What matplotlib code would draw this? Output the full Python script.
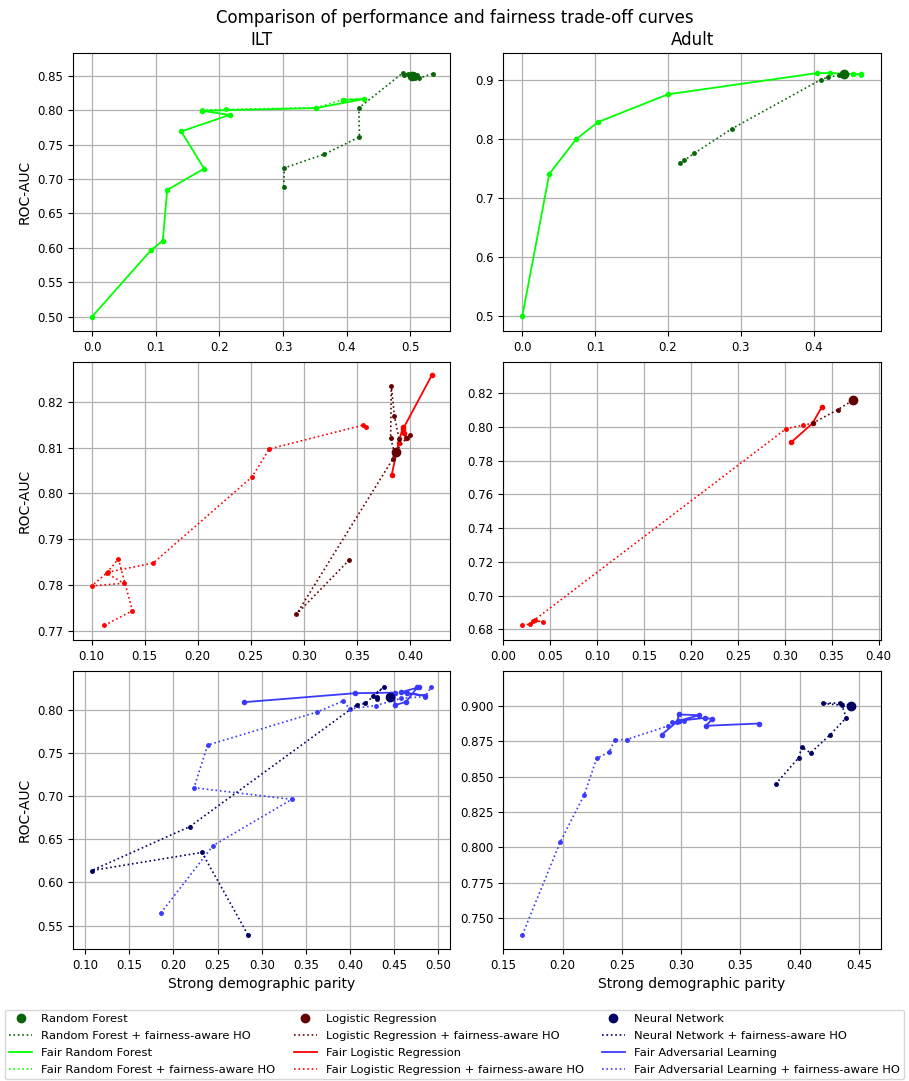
import numpy as np
import matplotlib
matplotlib.use('Agg')
import matplotlib.pyplot as plt
from matplotlib.lines import Line2D

# ---- ILT / Random Forest ----
ilt_rf_base = (0.503, 0.849)
ilt_rf_ho_x = [0.301, 0.302, 0.365, 0.420, 0.419, 0.488, 0.490, 0.497, 0.500, 0.505, 0.503, 0.508, 0.511, 0.502, 0.513, 0.535]
ilt_rf_ho_y = [0.689, 0.716, 0.736, 0.761, 0.803, 0.854, 0.851, 0.852, 0.850, 0.852, 0.848, 0.847, 0.851, 0.846, 0.846, 0.853]
ilt_frf_x = [0.0, 0.093, 0.111, 0.118, 0.176, 0.140, 0.216, 0.172, 0.352, 0.427, 0.394]
ilt_frf_y = [0.500, 0.597, 0.610, 0.684, 0.715, 0.769, 0.793, 0.799, 0.803, 0.816, 0.815]
ilt_frf_ho_x = [0.172, 0.210, 0.352, 0.394, 0.427]
ilt_frf_ho_y = [0.800, 0.801, 0.8035, 0.8150, 0.8163]

# ---- Adult / Random Forest ----
adult_rf_base = (0.442, 0.910)
adult_rf_ho_x = [0.216, 0.222, 0.236, 0.288, 0.410, 0.420, 0.434, 0.442]
adult_rf_ho_y = [0.759, 0.764, 0.776, 0.818, 0.901, 0.905, 0.908, 0.910]
adult_frf_x = [0.0, 0.037, 0.074, 0.104, 0.200, 0.405, 0.422, 0.442, 0.454, 0.465]
adult_frf_y = [0.500, 0.741, 0.800, 0.829, 0.876, 0.912, 0.912, 0.911, 0.910, 0.910]
adult_frf_ho_x = [0.442, 0.454, 0.465]
adult_frf_ho_y = [0.911, 0.910, 0.909]

# ---- ILT / Logistic Regression ----
ilt_lr_base = (0.387, 0.809)
ilt_lr_ho_x = [0.343, 0.293, 0.384, 0.3855, 0.382, 0.3826, 0.3855, 0.390, 0.4006, 0.3974, 0.3868]
ilt_lr_ho_y = [0.7855, 0.7736, 0.8075, 0.8089, 0.8121, 0.8235, 0.8169, 0.8118, 0.8127, 0.8122, 0.8092]
ilt_flr_x = [0.383, 0.3896, 0.3935, 0.3946, 0.3968, 0.3935, 0.4208]
ilt_flr_y = [0.8041, 0.8111, 0.8145, 0.8131, 0.8122, 0.8140, 0.8258]
ilt_flr_ho_x = [0.112, 0.1384, 0.1252, 0.114, 0.1302, 0.100, 0.115, 0.158, 0.2512, 0.2676, 0.3558, 0.3587]
ilt_flr_ho_y = [0.7712, 0.7744, 0.7857, 0.7826, 0.7804, 0.7798, 0.7828, 0.7848, 0.8036, 0.8097, 0.8149, 0.8144]

# ---- Adult / Logistic Regression ----
adult_lr_base = (0.3726, 0.8159)
adult_lr_ho_x = [0.3296, 0.3565, 0.3726]
adult_lr_ho_y = [0.8022, 0.8103, 0.8159]
adult_flr_x = [0.307, 0.3296, 0.3397]
adult_flr_y = [0.791, 0.8022, 0.8121]
adult_flr_ho_x = [0.0202, 0.0283, 0.0337, 0.0422, 0.0319, 0.3017, 0.3199, 0.3296]
adult_flr_ho_y = [0.6828, 0.6830, 0.6853, 0.6845, 0.6851, 0.7991, 0.8012, 0.8022]

# ---- ILT / Neural Network ----
ilt_nn_base = (0.4451, 0.8146)
ilt_nn_ho_x = [0.2843, 0.2323, 0.1076, 0.2184, 0.408, 0.417, 0.4384, 0.4255, 0.4301, 0.4301]
ilt_nn_ho_y = [0.5396, 0.6347, 0.6138, 0.6645, 0.8058, 0.8070, 0.8262, 0.8158, 0.8124, 0.8147]
ilt_fal_x = [0.2796, 0.4055, 0.4504, 0.4504, 0.4633, 0.4762, 0.478, 0.4572, 0.4849, 0.4645]
ilt_fal_y = [0.8085, 0.8189, 0.8196, 0.805, 0.8089, 0.8258, 0.8258, 0.820, 0.816, 0.8189]
ilt_fal_ho_x = [0.1858, 0.2448, 0.334, 0.2233, 0.2388, 0.3624, 0.3923, 0.3997, 0.429, 0.458, 0.485, 0.492]
ilt_fal_ho_y = [0.5646, 0.6425, 0.6961, 0.7096, 0.7589, 0.7970, 0.8100, 0.8008, 0.8046, 0.8130, 0.8150, 0.8266]

# ---- Adult / Neural Network ----
adult_nn_base = (0.4432, 0.9002)
adult_nn_ho_x = [0.3798, 0.3992, 0.402, 0.4093, 0.426, 0.4395, 0.4356, 0.4195, 0.434, 0.4432]
adult_nn_ho_y = [0.8447, 0.8633, 0.8708, 0.8668, 0.8797, 0.8917, 0.9005, 0.9017, 0.9021, 0.9002]
adult_fal_x = [0.2835, 0.297, 0.2979, 0.3154, 0.2985, 0.3205, 0.3264, 0.3208, 0.3654]
adult_fal_y = [0.8795, 0.889, 0.8939, 0.8934, 0.8895, 0.8915, 0.8906, 0.8859, 0.8875]
adult_fal_ho_x = [0.1661, 0.198, 0.2183, 0.2288, 0.2395, 0.244, 0.2542, 0.2894, 0.2921, 0.2965, 0.3028]
adult_fal_ho_y = [0.7382, 0.8037, 0.8371, 0.8628, 0.8675, 0.876, 0.8762, 0.8859, 0.8885, 0.8885, 0.889]

RF_C, FRF_C = '#0a640a', '#00ff00'
LR_C, FLR_C = '#640000', '#ff0000'
NN_C, FAL_C = '#000064', '#3a3aff'

plt.rcParams['font.family'] = 'DejaVu Sans'

fig, axes = plt.subplots(3, 2, figsize=(9.09, 10.81), dpi=100)
fig.subplots_adjust(left=0.0803, right=0.969, top=0.951, bottom=0.1221, wspace=0.14, hspace=0.111)


def draw(ax, base, ho, fair, fair_ho, c, fc):
    ax.plot(fair_ho[0], fair_ho[1], ':', color=fc, lw=1.2, marker='.', ms=5, zorder=2)
    ax.plot(fair[0], fair[1], '-', color=fc, lw=1.3, marker='o', ms=3, zorder=3)
    ax.plot(ho[0], ho[1], ':', color=c, lw=1.2, marker='.', ms=5, zorder=4)
    ax.plot([base[0]], [base[1]], 'o', color=c, ms=6, zorder=5)
    ax.grid(True, color='#b0b0b0', lw=0.9)
    ax.set_axisbelow(True)
    ax.tick_params(labelsize=8.5)


draw(axes[0, 0], ilt_rf_base, (ilt_rf_ho_x, ilt_rf_ho_y), (ilt_frf_x, ilt_frf_y),
     (ilt_frf_ho_x, ilt_frf_ho_y), RF_C, FRF_C)
draw(axes[0, 1], adult_rf_base, (adult_rf_ho_x, adult_rf_ho_y), (adult_frf_x, adult_frf_y),
     (adult_frf_ho_x, adult_frf_ho_y), RF_C, FRF_C)
draw(axes[1, 0], ilt_lr_base, (ilt_lr_ho_x, ilt_lr_ho_y), (ilt_flr_x, ilt_flr_y),
     (ilt_flr_ho_x, ilt_flr_ho_y), LR_C, FLR_C)
draw(axes[1, 1], adult_lr_base, (adult_lr_ho_x, adult_lr_ho_y), (adult_flr_x, adult_flr_y),
     (adult_flr_ho_x, adult_flr_ho_y), LR_C, FLR_C)
draw(axes[2, 0], ilt_nn_base, (ilt_nn_ho_x, ilt_nn_ho_y), (ilt_fal_x, ilt_fal_y),
     (ilt_fal_ho_x, ilt_fal_ho_y), NN_C, FAL_C)
draw(axes[2, 1], adult_nn_base, (adult_nn_ho_x, adult_nn_ho_y), (adult_fal_x, adult_fal_y),
     (adult_fal_ho_x, adult_fal_ho_y), NN_C, FAL_C)

axes[0, 0].set_xlim(-0.030, 0.563); axes[0, 0].set_ylim(0.479, 0.883)
axes[0, 1].set_xlim(-0.026, 0.492); axes[0, 1].set_ylim(0.475, 0.946)
axes[1, 0].set_xlim(0.0824, 0.4384); axes[1, 0].set_ylim(0.768, 0.8287)
axes[1, 1].set_xlim(0.0, 0.4024); axes[1, 1].set_ylim(0.6737, 0.8386)
axes[2, 0].set_xlim(0.0864, 0.5136); axes[2, 0].set_ylim(0.523, 0.8447)
axes[2, 1].set_xlim(0.150, 0.4686); axes[2, 1].set_ylim(0.7281, 0.9247)

axes[0, 0].set_title('ILT', fontsize=12)
axes[0, 1].set_title('Adult', fontsize=12)
for ax in axes[:, 0]:
    ax.set_ylabel('ROC-AUC', fontsize=10)
for ax in axes[2, :]:
    ax.set_xlabel('Strong demographic parity', fontsize=10)

fig.suptitle('Comparison of performance and fairness trade-off curves', fontsize=12, y=0.992)

handles = [
    Line2D([], [], ls='none', marker='o', color=RF_C, ms=6),
    Line2D([], [], ls=':', color=RF_C, lw=1.2),
    Line2D([], [], ls='-', color=FRF_C, lw=1.3),
    Line2D([], [], ls=':', color=FRF_C, lw=1.2),
    Line2D([], [], ls='none', marker='o', color=LR_C, ms=6),
    Line2D([], [], ls=':', color=LR_C, lw=1.2),
    Line2D([], [], ls='-', color=FLR_C, lw=1.3),
    Line2D([], [], ls=':', color=FLR_C, lw=1.2),
    Line2D([], [], ls='none', marker='o', color=NN_C, ms=6),
    Line2D([], [], ls=':', color=NN_C, lw=1.2),
    Line2D([], [], ls='-', color=FAL_C, lw=1.3),
    Line2D([], [], ls=':', color=FAL_C, lw=1.2),
]
labels = [
    'Random Forest', 'Random Forest + fairness-aware HO', 'Fair Random Forest',
    'Fair Random Forest + fairness-aware HO',
    'Logistic Regression', 'Logistic Regression + fairness-aware HO', 'Fair Logistic Regression',
    'Fair Logistic Regression + fairness-aware HO',
    'Neural Network', 'Neural Network + fairness-aware HO', 'Fair Adversarial Learning',
    'Fair Adversarial Learning + fairness-aware HO',
]
fig.legend(handles, labels, loc='lower center', ncol=3,
           bbox_to_anchor=(0.5, 0.002), fontsize=8.25, columnspacing=1.6,
           handlelength=2.0, labelspacing=0.6, borderpad=0.35, borderaxespad=0.0)

fig.savefig('out.png', dpi=100)
